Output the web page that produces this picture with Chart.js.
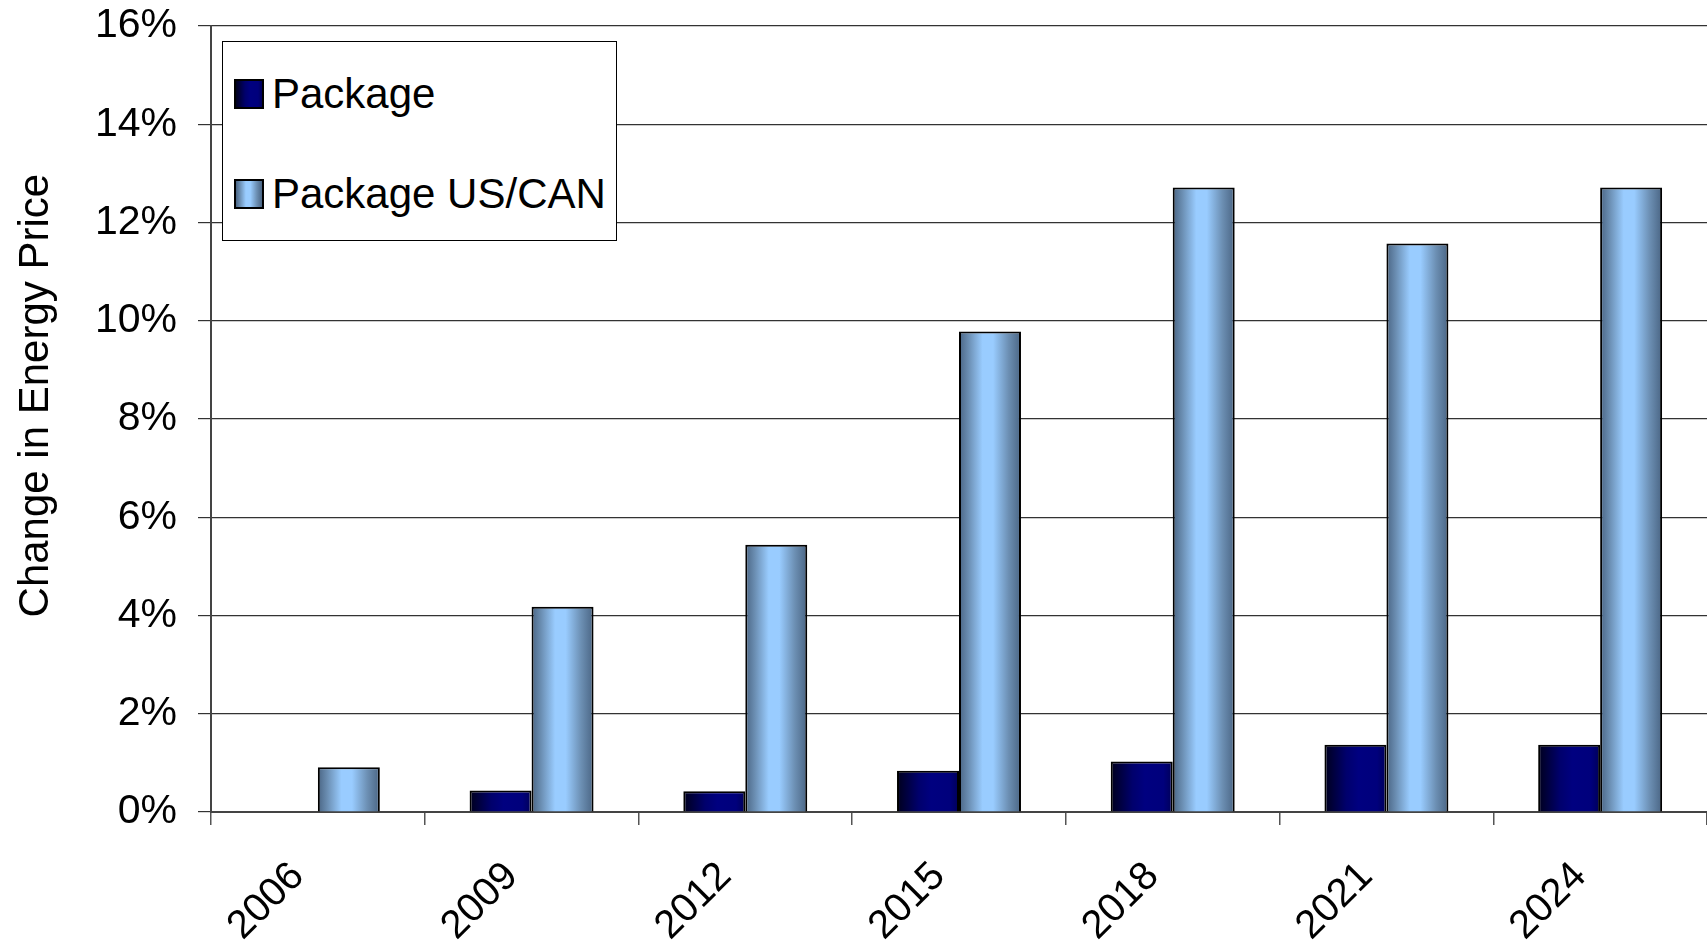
<!DOCTYPE html>
<html>
<head>
<meta charset="utf-8">
<script src="https://cdn.jsdelivr.net/npm/chart.js@4.4.1/dist/chart.umd.min.js"></script>
<style>
  html, body { margin: 0; padding: 0; background: #fff; overflow: hidden; }
  #wrap { position: relative; width: 1707px; height: 947px; }
  #legend {
    position: absolute; left: 222px; top: 41px; width: 393px; height: 198px;
    border: 1px solid #000; background: #fff;
    font-family: 'Liberation Sans', Arial, sans-serif; font-size: 42px; color: #000;
  }
  .item { position: absolute; left: 11px; height: 44px; display: flex; align-items: center; }
  .sw { width: 26px; height: 26px; border: 2px solid #000; margin-right: 8px; }
</style>
</head>
<body>
<div id="wrap">
  <canvas id="chart" width="1707" height="947"></canvas>
  <div id="legend"></div>
</div>
<script>
// values (percent change)
const years = ['2006', '2009', '2012', '2015', '2018', '2021', '2024'];
const seriesNames = ['Package', 'Package US/CAN'];
const packageVals = [null, 0.44, 0.42, 0.84, 1.03, 1.37, 1.37];
const usCanVals = [0.91, 4.18, 5.44, 9.78, 12.71, 11.57, 12.71];
const yTicks = [0, 2, 4, 6, 8, 10, 12, 14, 16];

const FONT = "'Liberation Sans', Arial, sans-serif";
const CAT_PCT = 0.58;

// horizontal "cylinder" shading, like the old Excel fill
const navyStops = [[0, '#00001c'], [0.35, '#00006c'], [0.55, '#000080'], [0.85, '#00007c'], [1, '#000058']];
const blueStops = [[0, '#4a6584'], [0.15, '#6a8db1'], [0.38, '#99ccff'], [0.55, '#99ccff'], [0.8, '#6c8fb3'], [1, '#4a6584']];

function barFill(stops, side) {
  return (c) => {
    const chart = c.chart;
    const xs = chart.scales.x;
    if (!chart.chartArea || !xs) return stops[2][1];
    const center = xs.getPixelForTick(c.dataIndex);
    const w = (xs.width / years.length) * CAT_PCT / 2;
    const x0 = side < 0 ? center - w : center;
    const g = chart.ctx.createLinearGradient(x0, 0, x0 + w, 0);
    stops.forEach(([o, col]) => g.addColorStop(o, col));
    return g;
  };
}

function cssGrad(stops) {
  return 'linear-gradient(to right, ' + stops.map(([o, c]) => c + ' ' + (o * 100) + '%').join(', ') + ')';
}

// legend box drawn as html on top of the plot
const legend = document.getElementById('legend');
[navyStops, blueStops].forEach((stops, i) => {
  const it = document.createElement('div');
  it.className = 'item';
  it.style.top = (30 + i * 100) + 'px';
  it.innerHTML = '<div class="sw" style="background:' + cssGrad(stops) + '"></div><span>' + seriesNames[i] + '</span>';
  legend.appendChild(it);
});

new Chart(document.getElementById('chart'), {
  type: 'bar',
  data: {
    labels: years,
    datasets: [
      { label: seriesNames[0], data: packageVals, backgroundColor: barFill(navyStops, -1), borderColor: '#000', borderWidth: 2, borderSkipped: 'bottom' },
      { label: seriesNames[1], data: usCanVals, backgroundColor: barFill(blueStops, 1), borderColor: '#000', borderWidth: 2, borderSkipped: 'bottom' },
    ],
  },
  options: {
    responsive: false,
    animation: false,
    categoryPercentage: CAT_PCT,
    barPercentage: 1,
    layout: { padding: { top: 26, right: 0, bottom: 0, left: 0 } },
    plugins: { legend: { display: false }, tooltip: { enabled: false } },
    scales: {
      x: {
        afterFit: (s) => { s.height = 135; s.paddingLeft = 0; s.paddingRight = 0; },
        grid: { display: true, drawOnChartArea: false, offset: true, tickLength: 13, color: '#555', lineWidth: 1.5 },
        border: { color: '#444', width: 2 },
        ticks: { color: '#000', font: { family: FONT, size: 40 }, minRotation: 45, maxRotation: 45, padding: 28, labelOffset: -20 },
      },
      y: {
        min: 0,
        max: 16,
        afterFit: (s) => { s.width = 211; s.paddingTop = 0; s.paddingBottom = 0; },
        afterBuildTicks: (s) => { s.ticks = yTicks.map((v) => ({ value: v })); },
        grid: { color: '#333', lineWidth: 1.2, tickLength: 13 },
        border: { color: '#444', width: 2 },
        ticks: { color: '#000', font: { family: FONT, size: 41 }, padding: 21, callback: (v) => v + '%' },
        title: { display: true, text: '    Change in Energy Price', color: '#000', font: { family: FONT, size: 42 }, padding: { top: 11, bottom: 0 } },
      },
    },
  },
});
</script>
</body>
</html>
